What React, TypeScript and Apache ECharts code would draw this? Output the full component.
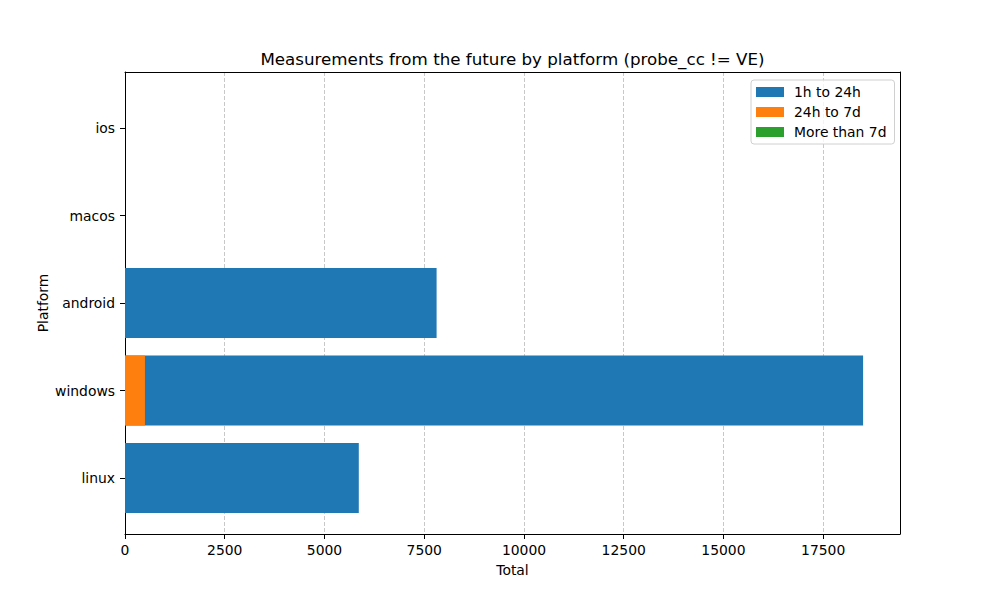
import * as echarts from "echarts"
import { useEffect, useRef } from "react"

const platforms = ["linux", "windows", "android", "macos", "ios"]
const seriesNames = ["1h to 24h", "24h to 7d", "More than 7d"]
const hour1to24 = [5860, 18500, 7810, 0, 0]
const hour24to7d = [0, 500, 0, 0, 0]
const moreThan7d = [0, 0, 0, 0, 0]
const colors = ["#1f77b4", "#ff7f0e", "#2ca02c"]
const xMax = 19425
const xInterval = 2500

const font = "DejaVu Sans"

const App: React.FC = () => {
    const ref = useRef<HTMLDivElement | null>(null)

    useEffect(() => {
        if (!ref.current) return
        const chart = echarts.init(ref.current, null, { renderer: "svg" })

        const values = [hour1to24, hour24to7d, moreThan7d]

        const option = {
            animation: false,
            backgroundColor: "#fff",
            textStyle: { fontFamily: font },
            grid: [
                // frame + x axis
                { left: 125, right: 100, top: 72, bottom: 66 },
                // bars, inset by matplotlib's 5% y margins
                { left: 125, right: 100, top: 84.25, bottom: 78.25 },
            ],
            xAxis: [
                {
                    gridIndex: 0,
                    type: "value",
                    min: 0,
                    max: xMax,
                    interval: xInterval,
                    axisLine: { show: true, lineStyle: { color: "#000", width: 1 } },
                    axisTick: { show: true, length: 5, lineStyle: { color: "#000" } },
                    axisLabel: { color: "#000", fontSize: 13.9, margin: 9, fontFamily: font, showMaxLabel: false, formatter: (v: number) => String(v) },
                    splitLine: { show: true, showMinLine: false, showMaxLine: false, lineStyle: { color: "#c8c8c8", type: [4, 2], width: 1 } },
                },
                {
                    gridIndex: 0,
                    type: "value",
                    position: "top",
                    min: 0,
                    max: xMax,
                    axisLine: { show: true, onZero: false, lineStyle: { color: "#000", width: 1 } },
                    axisTick: { show: false },
                    axisLabel: { show: false },
                    splitLine: { show: false },
                },
                {
                    gridIndex: 1,
                    type: "value",
                    min: 0,
                    max: xMax,
                    show: false,
                    splitLine: { show: false },
                },
            ],
            yAxis: [
                {
                    gridIndex: 0,
                    type: "value",
                    min: 0,
                    max: 1,
                    axisLine: { show: true, onZero: false, lineStyle: { color: "#000", width: 1 } },
                    axisTick: { show: false },
                    axisLabel: { show: false },
                    splitLine: { show: false },
                },
                {
                    gridIndex: 0,
                    type: "value",
                    position: "right",
                    min: 0,
                    max: 1,
                    axisLine: { show: true, onZero: false, lineStyle: { color: "#000", width: 1 } },
                    axisTick: { show: false },
                    axisLabel: { show: false },
                    splitLine: { show: false },
                },
                {
                    gridIndex: 1,
                    type: "category",
                    data: platforms,
                    axisLine: { show: false },
                    axisTick: { show: true, alignWithLabel: true, length: 5, lineStyle: { color: "#000" } },
                    axisLabel: { color: "#000", fontSize: 13.9, margin: 10, fontFamily: font },
                    splitLine: { show: false },
                },
            ],
            legend: {
                orient: "vertical",
                left: 751,
                top: 80,
                data: seriesNames,
                icon: "rect",
                itemWidth: 28,
                itemHeight: 10,
                itemGap: 6,
                padding: [5, 8, 5, 5],
                borderColor: "#d0d0d0",
                borderWidth: 1,
                borderRadius: 3,
                backgroundColor: "rgba(255,255,255,0.8)",
                textStyle: { color: "#000", fontSize: 13.9, fontFamily: font, padding: [0, 0, 0, 5] },
            },
            graphic: [
                {
                    type: "text",
                    x: 512.5,
                    y: 58.5,
                    style: { text: "Measurements from the future by platform (probe_cc != VE)", font: `16.7px '${font}'`, fill: "#000", align: "center", verticalAlign: "middle" },
                },
                {
                    type: "text",
                    x: 512.5,
                    y: 569.5,
                    style: { text: "Total", font: `13.9px '${font}'`, fill: "#000", align: "center", verticalAlign: "middle" },
                },
                {
                    type: "text",
                    x: 43,
                    y: 303,
                    rotation: Math.PI / 2,
                    style: { text: "Platform", font: `13.9px '${font}'`, fill: "#000", align: "center", verticalAlign: "middle" },
                },
            ],
            series: seriesNames.map((name, i) => ({
                name,
                type: "bar",
                xAxisIndex: 2,
                yAxisIndex: 2,
                data: values[i],
                barGap: "-100%",
                barCategoryGap: "20%",
                itemStyle: { color: colors[i] },
                z: 2 + i,
            })),
        }

        chart.setOption(option)
        return () => chart.dispose()
    }, [])

    return <div ref={ref} style={{ width: 1000, height: 600, position: "absolute", left: 0, top: 0 }}></div>
}

export default App
